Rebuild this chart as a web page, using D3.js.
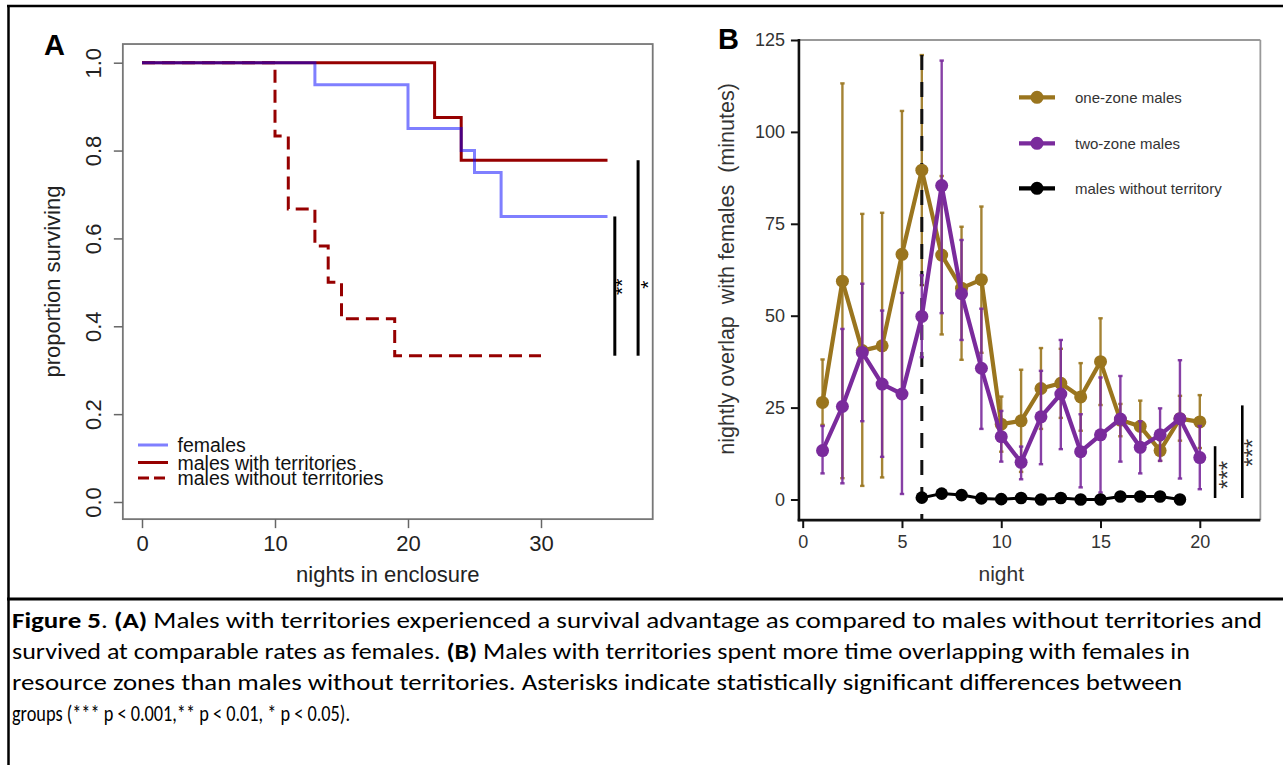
<!DOCTYPE html>
<html><head><meta charset="utf-8">
<script src="https://cdn.jsdelivr.net/npm/d3@7"></script>
<style>body{margin:0;background:#fff}svg{display:block}</style>
</head><body>
<script>
// ---------- Panel A data (Kaplan-Meier steps) ----------
const femTimes   = [0, 13, 20, 24, 25, 27, 35];
const femSurv    = [1.0, 0.95, 0.85, 0.80, 0.75, 0.65, 0.65];
const terrTimes  = [0, 22, 24, 35];
const terrSurv   = [1.0, 0.875, 0.778, 0.778];
const noTerrTimes= [0, 10, 11, 13, 14, 15, 19, 30];
const noTerrSurv = [1.0, 0.833, 0.667, 0.583, 0.5, 0.417, 0.333, 0.333];
const xTicksA = [0, 10, 20, 30];
const yTicksA = [0, 0.2, 0.4, 0.6, 0.8, 1.0];
const legendA = ["females", "males with territories", "males without territories"];
const sigA = [{x:35.55, y0:0.333, y1:0.65, label:"**", lx:36.1, ly:0.49},
              {x:37.3,  y0:0.333, y1:0.778, label:"*", lx:38.0, ly:0.495}];

// ---------- Panel B data ----------
const nights    = [1,2,3,4,5,6,7,8,9,10,11,12,13,14,15,16,17,18,19,20];
const oneZone   = [26.4,59.4,40.5,41.8,66.7,89.6,66.5,57.5,59.8,20.5,21.4,30.2,31.6,27.9,37.5,21.6,19.9,13.3,22.0,21.1];
const oneZoneLo = [20.3,5.8,3.7,6.0,27.7,58.3,44.9,38.0,39.9,13.0,7.5,19.2,22.2,18.7,25.7,17.2,13.0,10.5,16.0,14.0];
const oneZoneHi = [38.1,113.2,77.7,78.0,105.7,120.9,88.0,74.2,79.7,28.0,35.3,41.2,41.0,37.1,49.3,26.0,26.9,16.1,28.2,28.4];
const twoZone   = [13.3,25.3,40.0,31.4,28.7,49.8,85.4,56.0,35.7,17.1,10.1,22.5,28.7,13.0,17.6,21.9,14.2,17.6,22.0,11.4];
const twoZoneLo = [7.1,4.4,21.3,11.6,1.5,38.7,50.7,43.4,19.2,10.3,5.5,9.6,13.7,3.3,1.9,10.3,7.1,10.5,5.7,2.8];
const twoZoneHi = [20.0,46.4,58.7,51.4,56.2,61.0,119.4,70.6,51.9,24.1,14.4,35.0,43.4,23.2,33.2,33.6,21.3,24.8,37.9,20.0];
const noTerrNights = [6,7,8,9,10,11,12,13,14,15,16,17,18,19];
const noTerrB      = [0.5,1.6,1.2,0.3,0.1,0.4,0.0,0.4,0.0,0.0,0.8,0.8,0.8,0.0];
const xTicksB = [0, 5, 10, 15, 20];
const yTicksB = [0, 25, 50, 75, 100, 125];
const legendB = ["one-zone males", "two-zone males", "males without territory"];
const dividerNight = 6, dividerTop = 120.9;
const sigB = [{x:20.77, y0:0.4, y1:14.5, label:"***", lx:21.42, ly:6.7},
              {x:22.14, y0:0.4, y1:25.6, label:"***", lx:22.68, ly:12.7}];

const captionLines = [
  [["Figure 5",true],[". ",false],["(A)",true],[" Males with territories experienced a survival advantage as compared to males without territories and",false]],
  [["survived at comparable rates as females. ",false],["(B)",true],[" Males with territories spent more time overlapping with females in",false]],
  [["resource zones than males without territories. Asterisks indicate statistically significant differences between",false]],
  [["groups (*** p < 0.001,** p < 0.01, * p < 0.05).",false]]
];
const captionEnds = [1262, 1190, 1182, 350];

const W = 1283, H = 765;
const svg = d3.select("body").append("svg").attr("width", W).attr("height", H);
svg.append("rect").attr("width", W).attr("height", H).attr("fill", "#fff");

// outer frame
svg.append("line").attr("x1",8.5).attr("x2",8.5).attr("y1",5).attr("y2",H).attr("stroke","#000").attr("stroke-width",2.5);
svg.append("line").attr("x1",7).attr("x2",W).attr("y1",6).attr("y2",6).attr("stroke","#000").attr("stroke-width",2.5);
svg.append("line").attr("x1",7).attr("x2",W).attr("y1",599).attr("y2",599).attr("stroke","#000").attr("stroke-width",3);

// ================= PANEL A =================
const fA = "'Liberation Sans', Arial, Helvetica, sans-serif";
const xA = d3.scaleLinear().domain([0,30]).range([142,541]);
const yA = d3.scaleLinear().domain([0,1]).range([502,62.7]);
const gA = svg.append("g");
const fx0 = xA(-1.44), fx1 = xA(38.4), fy0 = yA(1.0425), fy1 = yA(-0.039);
gA.append("rect").attr("x",fx0).attr("y",fy0).attr("width",fx1-fx0).attr("height",fy1-fy0)
  .attr("fill","none").attr("stroke","#777").attr("stroke-width",1.8);

const axYA = gA.append("g").attr("transform",`translate(${fx0},0)`)
  .call(d3.axisLeft(yA).tickValues(yTicksA).tickFormat(d3.format(".1f")).tickSize(9));
axYA.select(".domain").remove();
axYA.selectAll("line").attr("stroke","#666").attr("stroke-width",1.5);
axYA.selectAll("text").attr("transform","rotate(-90)").attr("x",0).attr("y",-21.5).attr("dy",0)
  .attr("text-anchor","middle").attr("font-family",fA).attr("font-size",22).attr("fill","#222");

const axXA = gA.append("g").attr("transform",`translate(0,${fy1})`)
  .call(d3.axisBottom(xA).tickValues(xTicksA).tickSize(9));
axXA.select(".domain").remove();
axXA.selectAll("line").attr("stroke","#666").attr("stroke-width",1.5);
axXA.selectAll("text").attr("y",32).attr("dy",0).attr("font-family",fA).attr("font-size",22).attr("fill","#222");

gA.append("text").attr("transform",`translate(60,${(fy0+fy1)/2}) rotate(-90)`).attr("text-anchor","middle")
  .attr("font-family",fA).attr("font-size",22).attr("fill","#222").text("proportion surviving");
gA.append("text").attr("x",(fx0+fx1)/2).attr("y",582).attr("text-anchor","middle")
  .attr("font-family",fA).attr("font-size",22).attr("fill","#222").text("nights in enclosure");
gA.append("text").attr("x",44).attr("y",55).attr("font-family",fA).attr("font-weight","bold")
  .attr("font-size",29).attr("fill","#000").text("A");

const stepLine = d3.line().x(d=>xA(d[0])).y(d=>yA(d[1])).curve(d3.curveStepAfter);
const RED = "#960000";
gA.append("path").attr("d",stepLine(d3.zip(noTerrTimes,noTerrSurv))).attr("fill","none")
  .attr("stroke",RED).attr("stroke-width",3).attr("stroke-dasharray","13,7");
gA.append("path").attr("d",stepLine(d3.zip(terrTimes,terrSurv))).attr("fill","none")
  .attr("stroke",RED).attr("stroke-width",3);
gA.append("path").attr("d",stepLine(d3.zip(femTimes,femSurv))).attr("fill","none")
  .attr("stroke","#0000ff").attr("stroke-opacity",0.5).attr("stroke-width",3);

sigA.forEach(s=>{
  gA.append("line").attr("x1",xA(s.x)).attr("x2",xA(s.x)).attr("y1",yA(s.y0)).attr("y2",yA(s.y1))
    .attr("stroke","#000").attr("stroke-width",3);
  gA.append("text").attr("transform",`translate(${xA(s.lx)},${yA(s.ly)}) rotate(-90)`)
    .attr("text-anchor","middle").attr("dy","0.35em").attr("font-family",fA).attr("font-size",21).text(s.label);
});

// legend A
const legA = gA.append("g");
const legAY = [445, 462.5, 478];
const legAStyle = [{c:"#0000ff",o:0.5,d:null},{c:RED,o:1,d:null},{c:RED,o:1,d:"11,5"}];
legendA.forEach((t,i)=>{
  legA.append("line").attr("x1",138).attr("x2",168).attr("y1",legAY[i]).attr("y2",legAY[i])
    .attr("stroke",legAStyle[i].c).attr("stroke-opacity",legAStyle[i].o).attr("stroke-width",3)
    .attr("stroke-dasharray",legAStyle[i].d);
  legA.append("text").attr("x",177.5).attr("y",legAY[i]+7).attr("font-family",fA).attr("font-size",19.5)
    .attr("fill","#111").text(t);
});

// ================= PANEL B =================
const fB = "'Liberation Sans', Arial, Helvetica, sans-serif";
const xB = d3.scaleLinear().domain([0,20]).range([802.7,1199.8]);
const yB = d3.scaleLinear().domain([0,125]).range([499.5,40]);
const gB = svg.append("g");
const bx0 = xB(-0.19), bx1 = xB(23.05), by0 = yB(125), by1 = yB(-5.6);
const GOLD = "#9a751e", PURP = "#7a2b9c";

gB.append("line").attr("x1",bx0).attr("x2",bx1).attr("y1",by0).attr("y2",by0).attr("stroke","#999").attr("stroke-width",1.8);
gB.append("line").attr("x1",bx1).attr("x2",bx1).attr("y1",by0).attr("y2",by1).attr("stroke","#999").attr("stroke-width",1.8);

const axYB = gB.append("g").attr("transform",`translate(${bx0},0)`)
  .call(d3.axisLeft(yB).tickValues(yTicksB).tickSize(8));
axYB.select(".domain").remove();
axYB.selectAll("line").attr("stroke","#111").attr("stroke-width",2);
axYB.selectAll("text").attr("x",-14).attr("font-family",fB).attr("font-size",18).attr("fill","#333");
const axXB = gB.append("g").attr("transform",`translate(0,${by1})`)
  .call(d3.axisBottom(xB).tickValues(xTicksB).tickSize(8));
axXB.select(".domain").remove();
axXB.selectAll("line").attr("stroke","#111").attr("stroke-width",2);
axXB.selectAll("text").attr("y",28).attr("dy",0).attr("font-family",fB).attr("font-size",18).attr("fill","#333");
gB.append("line").attr("x1",bx0).attr("x2",bx0).attr("y1",by0-1).attr("y2",by1+1.2).attr("stroke","#111").attr("stroke-width",2.6);
gB.append("line").attr("x1",bx0-1.2).attr("x2",bx1).attr("y1",by1).attr("y2",by1).attr("stroke","#111").attr("stroke-width",2.6);

gB.append("text").attr("transform",`translate(734,269) rotate(-90)`).attr("text-anchor","middle")
  .attr("font-family",fB).attr("font-size",21.5).attr("fill","#333").style("white-space","pre")
  .text("nightly overlap  with females  (minutes)");
gB.append("text").attr("x",xB(10)).attr("y",581).attr("text-anchor","middle")
  .attr("font-family",fB).attr("font-size",21).attr("fill","#333").text("night");
gB.append("text").attr("x",718).attr("y",49).attr("font-family",fB).attr("font-weight","bold")
  .attr("font-size",29).attr("fill","#000").text("B");

function errBars(vals, lo, hi, color){
  const g = gB.append("g").attr("stroke",color).attr("stroke-width",2.4).attr("stroke-opacity",0.9);
  nights.forEach((n,i)=>{
    g.append("line").attr("x1",xB(n)).attr("x2",xB(n)).attr("y1",yB(lo[i])).attr("y2",yB(hi[i]));
    [lo[i],hi[i]].forEach(v=>g.append("line").attr("x1",xB(n)-2.2).attr("x2",xB(n)+2.2).attr("y1",yB(v)).attr("y2",yB(v)));
  });
}
function series(xs, vals, color, lw, r){
  const ln = d3.line().x((d,i)=>xB(xs[i])).y(d=>yB(d));
  gB.append("path").attr("d",ln(vals)).attr("fill","none").attr("stroke",color).attr("stroke-width",lw)
    .attr("stroke-linejoin","round");
  gB.append("g").selectAll("circle").data(vals).join("circle")
    .attr("cx",(d,i)=>xB(xs[i])).attr("cy",d=>yB(d)).attr("r",r).attr("fill",color);
}
errBars(oneZone, oneZoneLo, oneZoneHi, GOLD);
// divider dashed line at night 6
gB.append("line").attr("x1",xB(dividerNight)).attr("x2",xB(dividerNight)).attr("y1",yB(dividerTop)).attr("y2",by1)
  .attr("stroke","#111").attr("stroke-width",3).attr("stroke-dasharray","15,12");
series(nights, oneZone, GOLD, 4.2, 6.5);
errBars(twoZone, twoZoneLo, twoZoneHi, PURP);
series(nights, twoZone, PURP, 4.2, 6.5);
series(noTerrNights, noTerrB, "#000", 3, 6.3);

sigB.forEach(s=>{
  gB.append("line").attr("x1",xB(s.x)).attr("x2",xB(s.x)).attr("y1",yB(s.y0)).attr("y2",yB(s.y1))
    .attr("stroke","#000").attr("stroke-width",2.6);
  gB.append("text").attr("transform",`translate(${xB(s.lx)},${yB(s.ly)}) rotate(-90)`)
    .attr("text-anchor","middle").attr("dy","0.35em").attr("font-family",fB).attr("font-size",24)
    .attr("fill","#333").text(s.label);
});

// legend B
const legBY = [97.3, 143.3, 188.3];
const legBC = [GOLD, PURP, "#000"];
legendB.forEach((t,i)=>{
  gB.append("line").attr("x1",1019).attr("x2",1055).attr("y1",legBY[i]).attr("y2",legBY[i])
    .attr("stroke",legBC[i]).attr("stroke-width",4.2);
  gB.append("circle").attr("cx",1037).attr("cy",legBY[i]).attr("r",6.5).attr("fill",legBC[i]);
  gB.append("text").attr("x",1075).attr("y",legBY[i]).attr("dy","0.35em").attr("font-family",fB)
    .attr("font-size",15).attr("fill","#333").text(t);
});

// ================= CAPTION =================
const capX = 12;
const cap = svg.append("g").attr("font-family","Carlito, Calibri, Lato, 'Open Sans', sans-serif").attr("font-size",22).attr("fill","#000");
captionLines.forEach((segs,i)=>{
  const t = cap.append("text").attr("x",capX).attr("y",628 + i*31).style("white-space","pre")
    .attr("textLength",captionEnds[i]-capX).attr("lengthAdjust","spacingAndGlyphs");
  segs.forEach(s=>t.append("tspan").attr("font-weight",s[1]?"bold":"normal").text(s[0]));
});
</script>
</body></html>
